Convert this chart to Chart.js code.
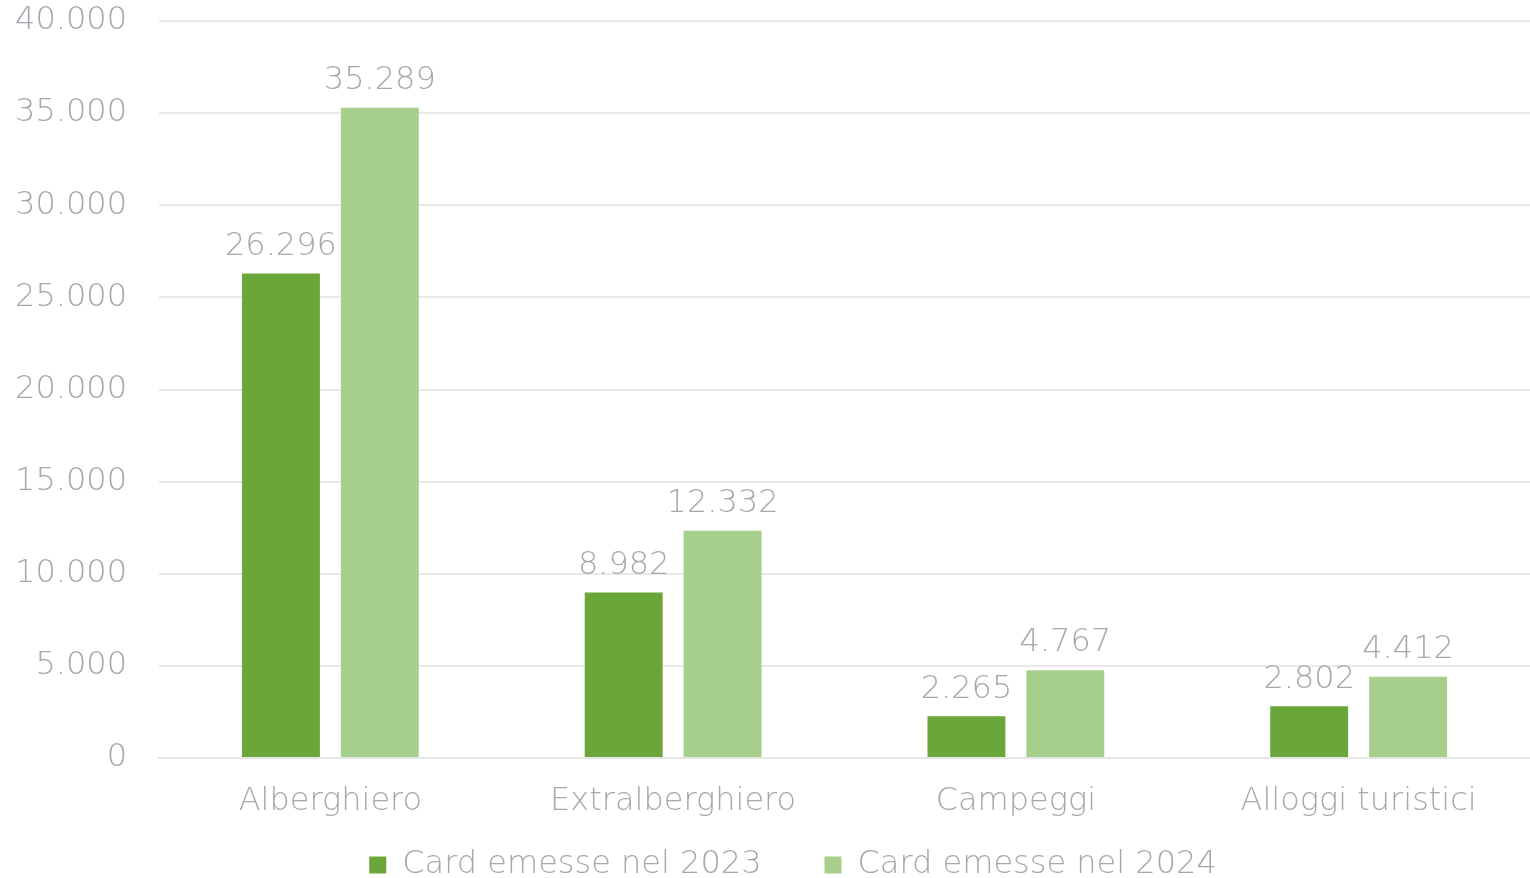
<!DOCTYPE html>
<html>
<head>
<meta charset="utf-8">
<script src="https://cdn.jsdelivr.net/npm/chart.js@4.4.1/dist/chart.umd.min.js"></script>
<style>
  html, body { margin:0; padding:0; background:#fff; overflow:hidden; }
  #view { width:1530px; height:878px; overflow:hidden; }
  #wrap { width:1530px; height:951px; position:relative; }
</style>
</head>
<body>
<div id="view"><div id="wrap"><canvas id="cardChart"></canvas></div></div>
<script>
const categories = ["Alberghiero", "Extralberghiero", "Campeggi", "Alloggi turistici"];
const cards2023 = [26296, 8982, 2265, 2802];
const cards2024 = [35289, 12332, 4767, 4412];
const seriesNames = ["Card emesse nel 2023", "Card emesse nel 2024"];

const TEXT = "#a3a9ae";
const FONT = "'DejaVu Sans', sans-serif";
const FSIZE = 32;

// italian thousands separator (Intl skips 4-digit numbers)
function fmt(v){
  return String(Math.round(v)).replace(/\B(?=(\d{3})+(?!\d))/g, ".");
}

const valueLabels = {
  id: "valueLabels",
  afterDatasetsDraw(chart){
    const ctx = chart.ctx;
    ctx.save();
    ctx.font = `200 ${FSIZE}px ${FONT}`;
    ctx.fillStyle = TEXT;
    ctx.textAlign = "center";
    ctx.textBaseline = "bottom";
    chart.data.datasets.forEach((ds, i) => {
      const meta = chart.getDatasetMeta(i);
      meta.data.forEach((bar, j) => {
        ctx.fillText(fmt(ds.data[j]), bar.x, bar.y - 11);
      });
    });
    ctx.restore();
  }
};

// legend needs wide horizontal gaps but sits close under the axis labels
const legendNudge = {
  id: "legendNudge",
  afterLayout(chart){
    const l = chart.legend;
    if(!l) return;
    l.top -= 60; l.bottom -= 60;
    l.left += 28; l.right += 28;
  }
};

new Chart(document.getElementById("cardChart"), {
  type: "bar",
  data: {
    labels: categories,
    datasets: [
      { label: seriesNames[0], data: cards2023, backgroundColor: "#6aa63a" },
      { label: seriesNames[1], data: cards2024, backgroundColor: "#a6cf8c" }
    ]
  },
  options: {
    responsive: true,
    maintainAspectRatio: false,
    animation: false,
    categoryPercentage: 0.577,
    barPercentage: 0.788,
    layout: { padding: { top: 21, right: 0, bottom: 0, left: 0 } },
    plugins: {
      tooltip: { enabled: false },
      legend: {
        position: "bottom",
        labels: {
          color: TEXT,
          font: { family: FONT, size: FSIZE, weight: 200 },
          boxWidth: 17,
          boxHeight: 17,
          padding: 63
        }
      }
    },
    scales: {
      x: {
        grid: { display: false, drawTicks: false },
        border: { color: "#e6e6e6", width: 2 },
        afterFit(scale){ scale.height = 88; },
        ticks: { color: TEXT, font: { family: FONT, size: FSIZE, weight: 200 }, padding: 24 }
      },
      y: {
        min: 0,
        max: 40000,
        grid: { color: "#e9e9e9", lineWidth: 2, drawTicks: false },
        border: { display: false },
        afterFit(scale){ scale.width = 159; scale.paddingTop = 0; scale.paddingBottom = 0; },
        ticks: {
          stepSize: 5000,
          color: TEXT,
          padding: 32,
          font: { family: FONT, size: FSIZE, weight: 200 },
          callback: v => fmt(v)
        }
      }
    }
  },
  plugins: [valueLabels, legendNudge]
});
</script>
</body>
</html>
